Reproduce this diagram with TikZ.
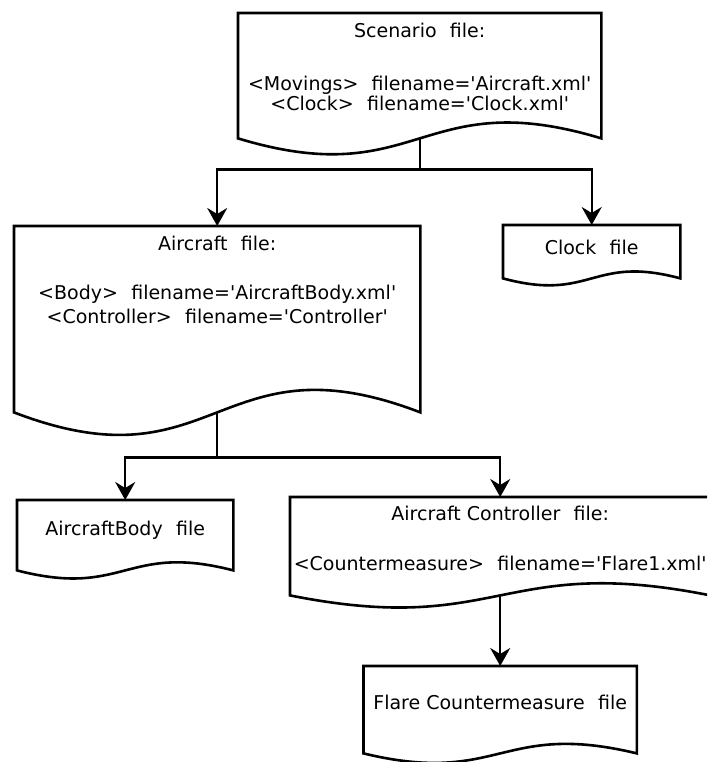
\documentclass[tikz,border=0pt]{standalone}
\usepackage{fontspec}
\setmainfont{DejaVu Sans}[Ligatures=TeXOff]
\usetikzlibrary{arrows.meta, calc, positioning}

% document outline with a wavy bottom edge: #1 node, #2 wave height
\newcommand{\docshape}[2]{%
  \path [draw, docline] (#1.south west) -- (#1.north west) -- (#1.north east) -- (#1.south east)
    .. controls ($(#1.south west)!0.5!(#1.south east) + (0,-#2)$)
            and ($(#1.south west)!0.5!(#1.south east) + (0,#2)$) .. (#1.south west) -- cycle;}
\newcommand{\gap}{\hspace{0.7em}}

\begin{document}
\begin{tikzpicture}[x=1pt, y=-1pt,
  box/.style     = {draw=none, inner sep=0pt, anchor=north west},
  label/.style   = {inner sep=0pt, align=center, font=\fontsize{19}{21}\selectfont},
  docline/.style = {line width=2.6pt, line join=miter},
  link/.style    = {line width=2.3pt, -{Stealth[length=18pt, width=20pt, inset=6pt]}}]

\path [use as bounding box, clip] (0,0) rectangle (707,762);

\node [box, minimum width=363pt, minimum height=125pt] (scn) at (238,13)    {};
\node [box, minimum width=406pt, minimum height=186pt] (air) at (14,226)    {};
\node [box, minimum width=177pt, minimum height=53pt ] (clk) at (503,225)   {};
\node [box, minimum width=216pt, minimum height=70pt ] (bdy) at (17,500)    {};
\node [box, minimum width=420pt, minimum height=98pt ] (ctl) at (290,497)   {};
\node [box, minimum width=273pt, minimum height=87pt ] (flr) at (363.5,666) {};

\docshape{scn}{55}
\docshape{air}{78}
\docshape{clk}{24}
\docshape{bdy}{28}
\docshape{ctl}{42}
\docshape{flr}{33}

\node [label, below=9.5pt of scn.north ] (scn-t) {Scenario\gap file:\\[32pt]
  <Movings>\gap filename='Aircraft.xml'\\[-1pt]
  <Clock>\gap filename='Clock.xml'};
\node [label, below=9.5pt of air.north ] (air-t) {Aircraft\gap file:\\[28pt]
  <Body>\gap filename='AircraftBody.xml'\\[3pt]
  <Controller>\gap filename='Controller'};
\node [label, below=14.5pt of clk.north] (clk-t) {Clock\gap file};
\node [label, below=20.5pt of bdy.north] (bdy-t) {AircraftBody\gap file};
\node [label, below=8.5pt of ctl.north ] (ctl-t) {Aircraft Controller\gap file:\\[29pt]
  <Countermeasure>\gap filename='Flare1.xml'};
\node [label, below=28.5pt of flr.north] (flr-t) {Flare Countermeasure\gap file};

\path [draw, link] (scn.south) -- ++(0,31) -| (air.north);
\path [draw, link] (scn.south) -- ++(0,31) -| (clk.north);
\path [draw, link] (air.south) -- ++(0,45) -| (bdy.north);
\path [draw, link] (air.south) -- ++(0,45) -| (ctl.north);
\path [draw, link] (ctl.south) -- (flr.north);

\end{tikzpicture}
\end{document}
